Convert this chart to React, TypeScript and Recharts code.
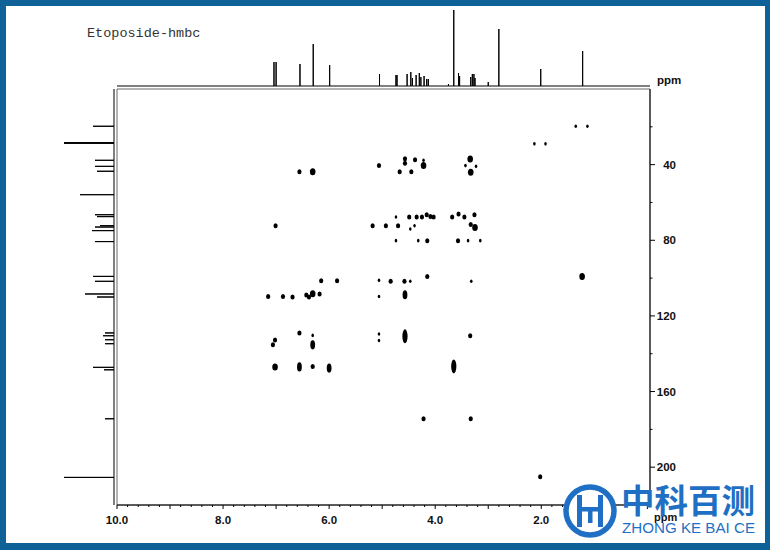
import React from 'react';
import { ScatterChart, Scatter, LineChart, Line, XAxis, YAxis, ReferenceArea } from 'recharts';

const title = 'Etoposide-hmbc';

// 1H projection (top): [ppm, peak height]
const protonPeaks: [number, number][] = [
  [7.04, 24], [7.0, 24], [6.55, 22], [6.3, 42], [5.99, 21], [5.05, 12],
  [4.74, 11], [4.72, 11], [4.53, 12], [4.46, 14], [4.43, 8], [4.36, 11], [4.3, 13], [4.27, 9],
  [4.21, 10], [4.16, 7], [4.13, 7], [3.75, 2], [3.65, 76], [3.56, 13], [3.54, 10],
  [3.33, 9], [3.3, 12], [3.27, 12], [3.25, 8], [3.0, 4], [2.8, 57], [2.01, 17], [1.22, 35],
];

// 13C projection (left): [ppm, peak height]
const carbonPeaks: [number, number][] = [
  [19.7, 21], [28.4, 50], [28.7, 50], [37.7, 19], [40.9, 19], [43.5, 17], [55.9, 34],
  [66.5, 19], [67.5, 17], [72.3, 14], [73.0, 19], [74.9, 22], [80.7, 19], [99.1, 21],
  [101.7, 19], [108.4, 29], [110.0, 17], [129.0, 9], [130.5, 11], [132.6, 9], [134.7, 9],
  [147.2, 21], [148.5, 10], [174.4, 9], [205.4, 50],
];

// HMBC cross peaks: [1H ppm, 13C ppm, intensity class]
const crossPeaks: [number, number, number][] = [
  [1.35, 19.7, 1], [1.13, 19.7, 1], [2.13, 29.0, 1], [1.92, 29.0, 1],
  [6.56, 43.7, 2], [6.31, 43.7, 3], [5.06, 40.5, 2], [4.57, 36.9, 2], [4.57, 39.3, 2],
  [4.38, 37.4, 2], [4.22, 37.7, 1], [4.22, 40.5, 3], [4.67, 43.7, 2], [4.45, 43.7, 2],
  [3.34, 37.0, 3], [3.43, 40.5, 1], [3.23, 40.9, 1], [3.33, 44.0, 3],
  [7.01, 72.3, 2], [5.18, 72.3, 2], [4.93, 72.3, 2], [4.70, 72.3, 2], [4.74, 67.7, 1],
  [4.49, 67.7, 2], [4.47, 74.0, 1], [4.39, 72.3, 1], [4.35, 67.7, 2], [4.25, 67.7, 2],
  [4.16, 66.5, 2], [4.09, 67.4, 2], [4.03, 67.7, 2], [3.68, 67.7, 2], [3.56, 66.1, 2],
  [3.45, 67.7, 2], [3.26, 66.5, 2], [3.33, 71.7, 2], [3.25, 73.2, 3],
  [4.74, 80.2, 1], [4.32, 80.2, 1], [4.15, 80.2, 2], [3.57, 80.2, 2], [3.38, 80.2, 1], [3.15, 80.2, 1],
  [6.15, 101.4, 2], [5.85, 101.4, 2], [5.06, 101.2, 1], [4.84, 101.7, 2], [4.58, 101.7, 2],
  [4.47, 101.7, 1], [4.15, 99.1, 2], [3.32, 101.7, 1], [1.23, 99.1, 3],
  [7.15, 109.7, 2], [6.87, 109.7, 2], [6.69, 110.0, 2], [6.43, 108.9, 2], [6.38, 110.0, 2],
  [6.31, 108.3, 3], [6.18, 108.4, 2], [5.06, 109.7, 1], [4.57, 108.8, 4],
  [7.02, 132.8, 2], [7.06, 135.3, 2], [6.56, 129.0, 2], [6.31, 130.3, 1], [6.31, 135.3, 4],
  [5.06, 129.6, 1], [5.06, 133.0, 1], [4.57, 130.8, 5], [3.34, 130.5, 2],
  [7.02, 147.0, 3], [6.56, 147.0, 4], [6.31, 146.7, 2], [6.00, 147.6, 4], [3.65, 146.7, 5],
  [4.22, 174.4, 2], [3.33, 174.4, 2], [2.02, 205.1, 2],
];

const xLabeled = [10, 8, 6, 4, 2];
const yLabeled = [40, 80, 120, 160, 200];
const xTicks = Array.from({ length: 51 }, (_, i) => Math.round(i * 2) / 10);
const yTicks = Array.from({ length: 12 }, (_, i) => i * 20);

const X_MIN = -0.05;
const X_MAX = 10;
const Y_MAX = 220;
const BLUE = '#1f6fc4';

const topData = [
  { x: X_MAX, y: 0 },
  ...protonPeaks.flatMap(([p, h]) => [{ x: p, y: 0 }, { x: p, y: h }, { x: p, y: 0 }]),
  { x: X_MIN, y: 0 },
];

const leftData = [
  { x: 0, y: 0 },
  ...carbonPeaks.flatMap(([c, h]) => [{ x: 0, y: c }, { x: h, y: c }, { x: 0, y: c }]),
  { x: 0, y: Y_MAX },
];

const crossData = crossPeaks.map(([h, c, i]) => ({ h, c, i }));

const spotSize: Record<number, [number, number]> = {
  1: [1.3, 1.8], 2: [2.1, 2.5], 3: [2.8, 3.5], 4: [2.4, 4.6], 5: [2.6, 7],
};

const tickFont = { fontFamily: '"Liberation Sans", Arial, sans-serif', fontSize: 11.5, fontWeight: 700 };

const Spot = (props: any) => {
  const [rx, ry] = spotSize[props.payload.i] || spotSize[2];
  return <ellipse cx={props.cx} cy={props.cy} rx={rx} ry={ry} fill="#000" />;
};

const XTick = ({ x, y, payload }: any) => {
  const v = payload.value;
  const major = Math.abs(v - Math.round(v)) < 1e-6;
  const label = xLabeled.includes(v);
  return (
    <g>
      <line x1={x} x2={x} y1={y} y2={y + (major ? 4 : 2)} stroke="#000" />
      {label && (
        <text x={x} y={y + 19} textAnchor="middle" fill="#111" {...tickFont}>{v.toFixed(1)}</text>
      )}
    </g>
  );
};

const YTick = ({ x, y, payload }: any) => {
  const v = payload.value;
  if (v <= 0 || v >= Y_MAX) return <g />;
  const major = v % 40 === 0;
  return (
    <g>
      <line x1={x} x2={x + (major ? 5 : 2.5)} y1={y} y2={y} stroke="#000" />
      {yLabeled.includes(v) && (
        <text x={x + 26} y={y + 4} textAnchor="end" fill="#111" {...tickFont}>{v}</text>
      )}
    </g>
  );
};

export default function App() {
  return (
    <div style={{ position: 'fixed', left: 0, top: 0, width: 770, height: 550, background: '#fff', overflow: 'hidden' }}>
      <div style={{ position: 'absolute', left: 0, top: 0 }}>
        <ScatterChart width={770} height={550} margin={{ top: 89, right: 80, bottom: 15, left: 117 }}>
          <XAxis type="number" dataKey="h" domain={[X_MIN, X_MAX]} reversed ticks={xTicks} interval={0}
            tick={<XTick />} tickLine={false} tickSize={0} tickMargin={0} height={30}
            axisLine={{ stroke: '#000' }} />
          <YAxis type="number" dataKey="c" orientation="right" domain={[0, Y_MAX]} reversed ticks={yTicks}
            interval={0} tick={<YTick />} tickLine={false} tickSize={0} tickMargin={0} width={40}
            axisLine={{ stroke: '#000' }} />
          <ReferenceArea x1={X_MAX} x2={X_MIN} y1={0} y2={Y_MAX} fill="none" stroke="#6a6a6a" strokeWidth={1} />
          <Scatter data={crossData} shape={<Spot />} isAnimationActive={false} />
        </ScatterChart>
      </div>

      <div style={{ position: 'absolute', left: 0, top: 0 }}>
        <LineChart width={770} height={87} data={topData} margin={{ top: 10, right: 120, bottom: 1, left: 117 }}>
          <XAxis type="number" dataKey="x" domain={[X_MIN, X_MAX]} reversed hide />
          <YAxis type="number" domain={[0, 76]} hide />
          <Line dataKey="y" type="linear" stroke="#000" strokeWidth={1} dot={false} isAnimationActive={false} />
        </LineChart>
      </div>

      <div style={{ position: 'absolute', left: 0, top: 0 }}>
        <ScatterChart width={116} height={550} margin={{ top: 89, right: 2, bottom: 45, left: 64 }}>
          <XAxis type="number" dataKey="x" domain={[0, 50]} reversed hide />
          <YAxis type="number" dataKey="y" domain={[0, Y_MAX]} reversed hide />
          <Scatter data={leftData} line={{ stroke: '#000', strokeWidth: 1 }} shape={() => <g />} isAnimationActive={false} />
        </ScatterChart>
      </div>

      <svg width={770} height={550} style={{ position: 'absolute', left: 0, top: 0, pointerEvents: 'none' }}>
        <text x={87} y={37} fontFamily='"Liberation Mono", "Courier New", monospace' fontSize={13.5} fill="#333">{title}</text>
        <text x={657} y={84} fill="#111" {...tickFont}>ppm</text>
        <text x={654} y={521} fill="#111" {...tickFont} fontSize={11}>ppm</text>
        <g>
          <circle cx={590} cy={511} r={24} fill="#fff" stroke={BLUE} strokeWidth={5.5} />
          <rect x={577} y={495} width={5} height={32} fill={BLUE} />
          <rect x={598} y={495} width={5} height={32} fill={BLUE} />
          <rect x={582} y={507} width={16} height={4.5} fill={BLUE} />
          <rect x={588} y={511} width={4.5} height={12} fill={BLUE} />
          <text x={621} y={513} fontFamily='"Noto Sans CJK SC", sans-serif' fontSize={33} fontWeight={700} fill={BLUE}
            textLength={134} lengthAdjust="spacingAndGlyphs">中科百测</text>
          <text x={622} y={533} fontFamily='"Liberation Sans", Arial, sans-serif' fontSize={15} fill={BLUE}
            textLength={133} lengthAdjust="spacingAndGlyphs">ZHONG KE BAI CE</text>
        </g>
      </svg>

      <div style={{ position: 'absolute', left: 0, top: 0, width: 770, height: 550, boxSizing: 'border-box',
        borderStyle: 'solid', borderColor: '#0e6298', borderWidth: '6px 5px 7px 6px', pointerEvents: 'none' }} />
    </div>
  );
}
